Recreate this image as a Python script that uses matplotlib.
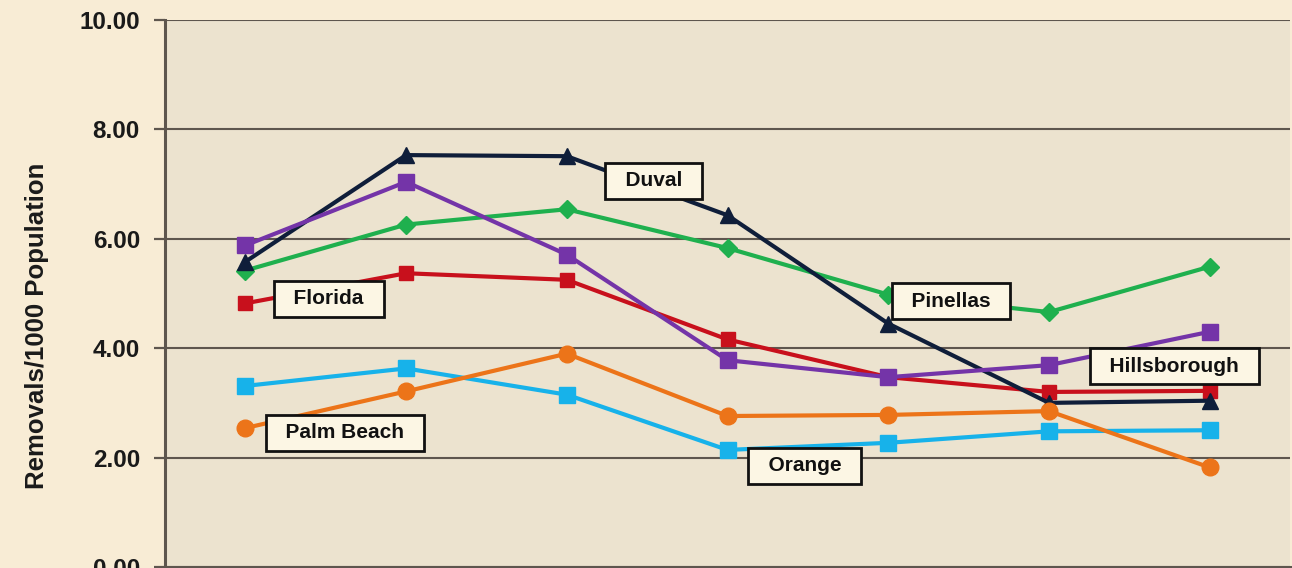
import matplotlib.pyplot as plt
import numpy as np

# --- data ---
n_points = 7
florida      = [4.82, 5.37, 5.25, 4.16, 3.47, 3.20, 3.22]
duval        = [5.58, 7.53, 7.51, 6.43, 4.45, 3.00, 3.04]
hillsborough = [5.88, 7.04, 5.71, 3.78, 3.47, 3.69, 4.30]
pinellas     = [5.42, 6.26, 6.54, 5.83, 4.98, 4.66, 5.49]
orange       = [3.31, 3.63, 3.15, 2.14, 2.27, 2.48, 2.50]
palm_beach   = [2.54, 3.21, 3.90, 2.76, 2.78, 2.85, 1.82]

yticks = [0, 2, 4, 6, 8, 10]
ylabel = 'Removals/1000 Population'

# label boxes: (text, x index, y value)
labels = [
    ('Florida', 0.52, 4.9),
    ('Duval', 2.54, 7.06),
    ('Pinellas', 4.39, 4.86),
    ('Hillsborough', 5.78, 3.67),
    ('Palm Beach', 0.62, 2.45),
    ('Orange', 3.48, 1.85),
]

plt.rcParams['font.family'] = ['Liberation Sans', 'DejaVu Sans']
plt.rcParams['font.weight'] = 'bold'

fig = plt.figure(figsize=(12.92, 5.68), dpi=100)
fig.patch.set_facecolor('#f8ecd5')
ax = fig.add_axes([0.1277, 0.0018, 0.8708, 0.963])
ax.set_facecolor('#ece3cf')

x = np.arange(n_points)

# series, drawn bottom to top
series = [
    (florida, '#c8101c', 's', 10),
    (pinellas, '#1fb04e', 'D', 9),
    (duval, '#0f1e3a', '^', 11),
    (hillsborough, '#7434a8', 's', 12),
    (orange, '#17b2ea', 's', 11),
    (palm_beach, '#ec7419', 'o', 12),
]
for vals, col, mk, ms in series:
    ax.plot(x, vals, color=col, linewidth=3.0, marker=mk, markersize=ms,
            markerfacecolor=col, markeredgecolor=col, zorder=3)

for txt, lx, ly in labels:
    ax.text(lx, ly, '  ' + txt + '  ', fontsize=15, fontweight='bold',
            ha='center', va='center', color='#111111', zorder=5,
            bbox=dict(boxstyle='square,pad=0.4', facecolor='#fcf6e4',
                      edgecolor='#111111', linewidth=2.0))

ax.set_xlim(-0.5, n_points - 0.5)
ax.set_ylim(0, 10)
ax.set_yticks(yticks)
ax.set_yticklabels([f'{v:.2f}' for v in yticks])
ax.set_xticks([])

ax.yaxis.grid(True, color='#5e564e', linewidth=1.5)
ax.set_axisbelow(True)
ax.tick_params(axis='y', length=8, width=1.6, color='#5e564e', pad=10,
               labelsize=17.5, labelcolor='#1a1a1a')

for side in ['top', 'right']:
    ax.spines[side].set_visible(False)
ax.spines['left'].set_color('#5e564e')
ax.spines['left'].set_linewidth(2.2)
ax.spines['bottom'].set_color('#5e564e')
ax.spines['bottom'].set_linewidth(2.2)

fig.text(37 / 1292, 1 - 326 / 568, ylabel, rotation=90, ha='center', va='center',
         fontsize=18.5, fontweight='bold', color='#1a1a1a')

fig.savefig('out.png', dpi=100, facecolor=fig.get_facecolor())
